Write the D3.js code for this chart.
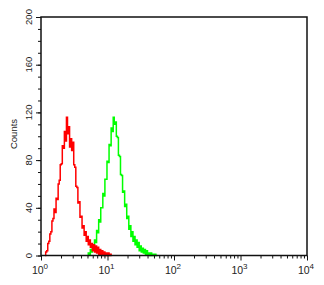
<!DOCTYPE html>
<html>
<head>
<meta charset="utf-8">
<script src="https://d3js.org/d3.v7.min.js"></script>
<style>
  body { margin: 0; background: #fff; }
  svg { display: block; font-family: "Liberation Sans", Arial, sans-serif; }
  .frame { fill: none; stroke: #111; stroke-width: 1.5; }
  .tick line { stroke: #111; }
  .hist { fill: none; stroke-width: 1.5; stroke-linejoin: miter; }
</style>
</head>
<body>
<div id="chart"></div>
<script>

// 64 channels per decade, channel c sits at 10^(c/64)
var channelsPerDecade = 64;

// isotype control (red), first channel = redStart
var redStart = 4;
var redCounts = [0, 3, 4, 10, 12, 18, 20, 29, 31, 39, 36, 48, 47, 60, 63, 76, 77, 92, 90, 104,
  96, 116, 102, 108, 91, 98, 88, 95, 76, 74, 58, 57, 44, 45, 32, 33, 23, 25, 17, 20,
  12, 16, 9, 13, 7, 10, 4, 9, 3, 8, 2, 7, 1, 5, 1, 4, 0, 3, 0, 2,
  0, 2, 0, 1, 0];

// stained sample (green), first channel = greenStart
var greenStart = 45;
var greenCounts = [0, 2, 1, 5, 3, 7, 5, 13, 11, 21, 19, 30, 28, 40, 40, 52, 50, 64, 64, 79,
  78, 93, 92, 107, 104, 116, 110, 112, 100, 99, 84, 83, 68, 67, 53, 54, 41, 43, 31, 33,
  22, 25, 16, 20, 12, 16, 9, 13, 7, 11, 4, 8, 3, 6, 2, 5, 1, 4, 1, 2,
  0, 2, 0, 1, 0, 1, 0, 0];

var yTicks = [0, 40, 80, 120, 160, 200];
var xDecades = [0, 1, 2, 3, 4];

var width = 324,
    height = 285,
    plotL = 41, plotR = 307, plotT = 17, plotB = 255.5;

var svg = d3.select("#chart").append("svg")
    .attr("width", width)
    .attr("height", height);

var x = d3.scaleLog()
    .domain([1, 1e4])
    .range([plotL, plotR]);

var y = d3.scaleLinear()
    .domain([0, 200])
    .range([plotB, plotT]);

function toPoints(start, counts) {
  return counts.map(function(d, i) {
    return { v: Math.pow(10, (start + i) / channelsPerDecade), n: d };
  });
}

var line = d3.line()
    .x(function(d) { return x(d.v); })
    .y(function(d) { return y(d.n); })
    .curve(d3.curveStep);

svg.append("path")
    .datum(toPoints(greenStart, greenCounts))
    .attr("class", "hist")
    .attr("d", line)
    .style("stroke", "#00ff00");

svg.append("path")
    .datum(toPoints(redStart, redCounts))
    .attr("class", "hist")
    .attr("d", line)
    .style("stroke", "#ff0000");

// y axis: majors every 40, minors every 10
var yAxis = svg.append("g")
    .attr("transform", "translate(" + plotL + ",0)");

yAxis.append("g")
    .call(d3.axisLeft(y).tickValues(d3.range(0, 201, 10)).tickSize(3).tickFormat(""))
    .call(function(g) { g.select(".domain").remove(); });

yAxis.append("g")
    .call(d3.axisLeft(y).tickValues(yTicks).tickSize(5).tickFormat(""))
    .call(function(g) { g.select(".domain").remove(); });

yAxis.selectAll(".ylab")
    .data(yTicks)
  .enter().append("text")
    .attr("class", "ylab")
    .attr("transform", function(d) { return "translate(-9," + y(d) + ")rotate(-90)"; })
    .attr("text-anchor", "middle")
    .style("font-size", "9.5px")
    .style("fill", "#222")
    .text(function(d) { return d; });

svg.append("text")
    .attr("transform", "translate(17,134)rotate(-90)")
    .attr("text-anchor", "middle")
    .style("font-size", "9.5px")
    .style("fill", "#222")
    .text("Counts");

// x axis: log decades with 2..9 minors
var minors = [];
xDecades.slice(0, -1).forEach(function(p) {
  for (var k = 2; k < 10; k++) minors.push(k * Math.pow(10, p));
});

var xAxis = svg.append("g")
    .attr("transform", "translate(0," + plotB + ")");

xAxis.append("g")
    .call(d3.axisBottom(x).tickValues(minors).tickSize(3).tickFormat(""))
    .call(function(g) { g.select(".domain").remove(); });

xAxis.append("g")
    .call(d3.axisBottom(x).tickValues(xDecades.map(function(p) { return Math.pow(10, p); })).tickSize(5).tickFormat(""))
    .call(function(g) { g.select(".domain").remove(); });

var xl = xAxis.selectAll(".xlab")
    .data(xDecades)
  .enter().append("text")
    .attr("class", "xlab")
    .attr("x", function(d) { return x(Math.pow(10, d)) - 1; })
    .attr("y", 18.5)
    .attr("text-anchor", "middle")
    .style("font-size", "10.5px")
    .style("fill", "#222");

xl.append("tspan").text("10");
xl.append("tspan")
    .attr("dy", -5)
    .style("font-size", "8px")
    .text(function(d) { return d; });

svg.append("rect")
    .attr("class", "frame")
    .attr("x", plotL)
    .attr("y", plotT)
    .attr("width", plotR - plotL)
    .attr("height", plotB - plotT);

</script>
</body>
</html>
